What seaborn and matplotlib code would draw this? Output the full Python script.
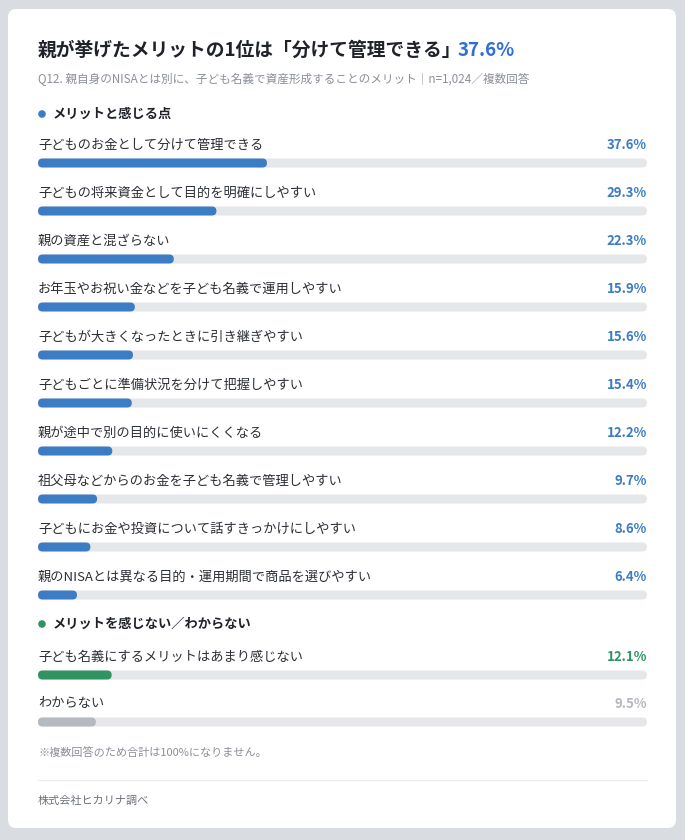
# 子ども名義NISAのメリット（Q12）の横棒グラフ
import numpy as np
import pandas as pd
import matplotlib.pyplot as plt
import seaborn as sns
from matplotlib.patches import FancyBboxPatch, Circle
from matplotlib.lines import Line2D
from matplotlib.transforms import IdentityTransform

# データ
labels_merit = ['子どものお金として分けて管理できる', '子どもの将来資金として目的を明確にしやすい',
                '親の資産と混ざらない', 'お年玉やお祝い金などを子ども名義で運用しやすい',
                '子どもが大きくなったときに引き継ぎやすい', '子どもごとに準備状況を分けて把握しやすい',
                '親が途中で別の目的に使いにくくなる', '祖父母などからのお金を子ども名義で管理しやすい',
                '子どもにお金や投資について話すきっかけにしやすい', '親のNISAとは異なる目的・運用期間で商品を選びやすい']
values_merit = [37.6, 29.3, 22.3, 15.9, 15.6, 15.4, 12.2, 9.7, 8.6, 6.4]
labels_none = ['子ども名義にするメリットはあまり感じない', 'わからない']
values_none = [12.1, 9.5]

title = '親が挙げたメリットの1位は「分けて管理できる」'
title_pct = '37.6%'
subtitle = 'Q12. 親自身のNISAとは別に、子ども名義で資産形成することのメリット｜n=1,024／複数回答'
section1 = 'メリットと感じる点'
section2 = 'メリットを感じない／わからない'
note = '※複数回答のため合計は100%になりません。'
source = '株式会社ヒカリナ調べ'

BLUE = '#3b7cc4'
GREEN = '#2f9462'
GRAY_BAR = '#b5b9c0'
GRAY_TXT = '#b4b8be'
TRACK = '#e6e7eb'

sns.set_theme(style='white')
plt.rcParams['font.family'] = ['Noto Sans CJK JP', 'DejaVu Sans']

W, H = 685, 840
fig = plt.figure(figsize=(6.85, 8.4), dpi=100)
fig.patch.set_facecolor('#d9dde2')

# 白いカード
card = FancyBboxPatch((8 / W, 1 - 828 / H), 668 / W, 819 / H,
                      boxstyle='round,pad=0,rounding_size=0.012', mutation_aspect=W / H,
                      transform=fig.transFigure, fc='white', ec='none', zorder=-10)
fig.add_artist(card)


def section(labels, values, bar_colors, pct_colors, first, spacing, top, bottom):
    ax = fig.add_axes([38 / W, 1 - bottom / H, 609 / W, (bottom - top) / H])
    ax.set_zorder(5)
    ax.patch.set_alpha(0)
    df = pd.DataFrame({'label': labels, 'value': values, 'track': 100.0})
    bw = 9 / spacing
    sns.barplot(data=df, x='track', y='label', color=TRACK, width=bw, saturation=1, ax=ax)
    sns.barplot(data=df, x='value', y='label', hue='label', palette=bar_colors,
                width=bw, saturation=1, dodge=False, legend=False, ax=ax)
    ax.set_xlim(0, 100)
    ax.set_ylim((bottom - first) / spacing, (top - first) / spacing)
    ax.axis('off')
    for i, (lab, v, pc) in enumerate(zip(labels, values, pct_colors)):
        yl = i - 18 / spacing
        ax.text(0, yl, lab, ha='left', va='center', fontsize=9.5, color='#2b2f36')
        ax.text(100, yl, f'{v}%', ha='right', va='center', fontsize=9.5,
                fontweight='bold', color=pc)
    # 角丸に置き換え
    for p in list(ax.patches):
        x0, y0 = p.get_x(), p.get_y()
        (dx0, dy0), (dx1, dy1) = ax.transData.transform(
            [(x0, y0), (x0 + p.get_width(), y0 + p.get_height())])
        fc = p.get_facecolor()
        p.remove()
        xa, ya = min(dx0, dx1), min(dy0, dy1)
        w, h = abs(dx1 - dx0), abs(dy1 - dy0)
        fig.add_artist(FancyBboxPatch((xa, ya), w, h,
                                      boxstyle=f'round,pad=0,rounding_size={h / 2}',
                                      transform=IdentityTransform(), fc=fc, ec='none', zorder=1))
    return ax


section(labels_merit, values_merit, [BLUE] * len(values_merit), [BLUE] * len(values_merit),
        163, 48, 128, 612)
section(labels_none, values_none, [GREEN, GRAY_BAR], [GREEN, GRAY_TXT], 675, 47, 640, 740)

# テキスト
t = fig.text(38 / W, 1 - 50 / H, title, fontsize=13.5, fontweight='bold', color='#1f2329', va='center')
r = fig.canvas.get_renderer()
ext = t.get_window_extent(r)
fig.text((ext.x1 - 4) / W, 1 - 50 / H, title_pct, fontsize=13.5, fontweight='bold',
         color='#2f6fd6', va='center')
fig.text(38 / W, 1 - 79 / H, subtitle, fontsize=8.4, color='#8a8f98', va='center')

for y, txt, col in [(114, section1, BLUE), (624, section2, GREEN)]:
    fig.add_artist(Circle((42, H - y), 3.8, transform=IdentityTransform(), fc=col, ec='none'))
    fig.text(53 / W, 1 - y / H, txt, fontsize=9.5, fontweight='bold', color='#1f2329', va='center')

fig.text(38 / W, 1 - 753 / H, note, fontsize=8, color='#8a8f98', va='center')
fig.add_artist(Line2D([38 / W, 647 / W], [1 - 780 / H, 1 - 780 / H], color='#ebedf0', lw=1))
fig.text(38 / W, 1 - 801 / H, source, fontsize=8, color='#6b7079', va='center')

fig.savefig('out.png', dpi=100, facecolor=fig.get_facecolor())
